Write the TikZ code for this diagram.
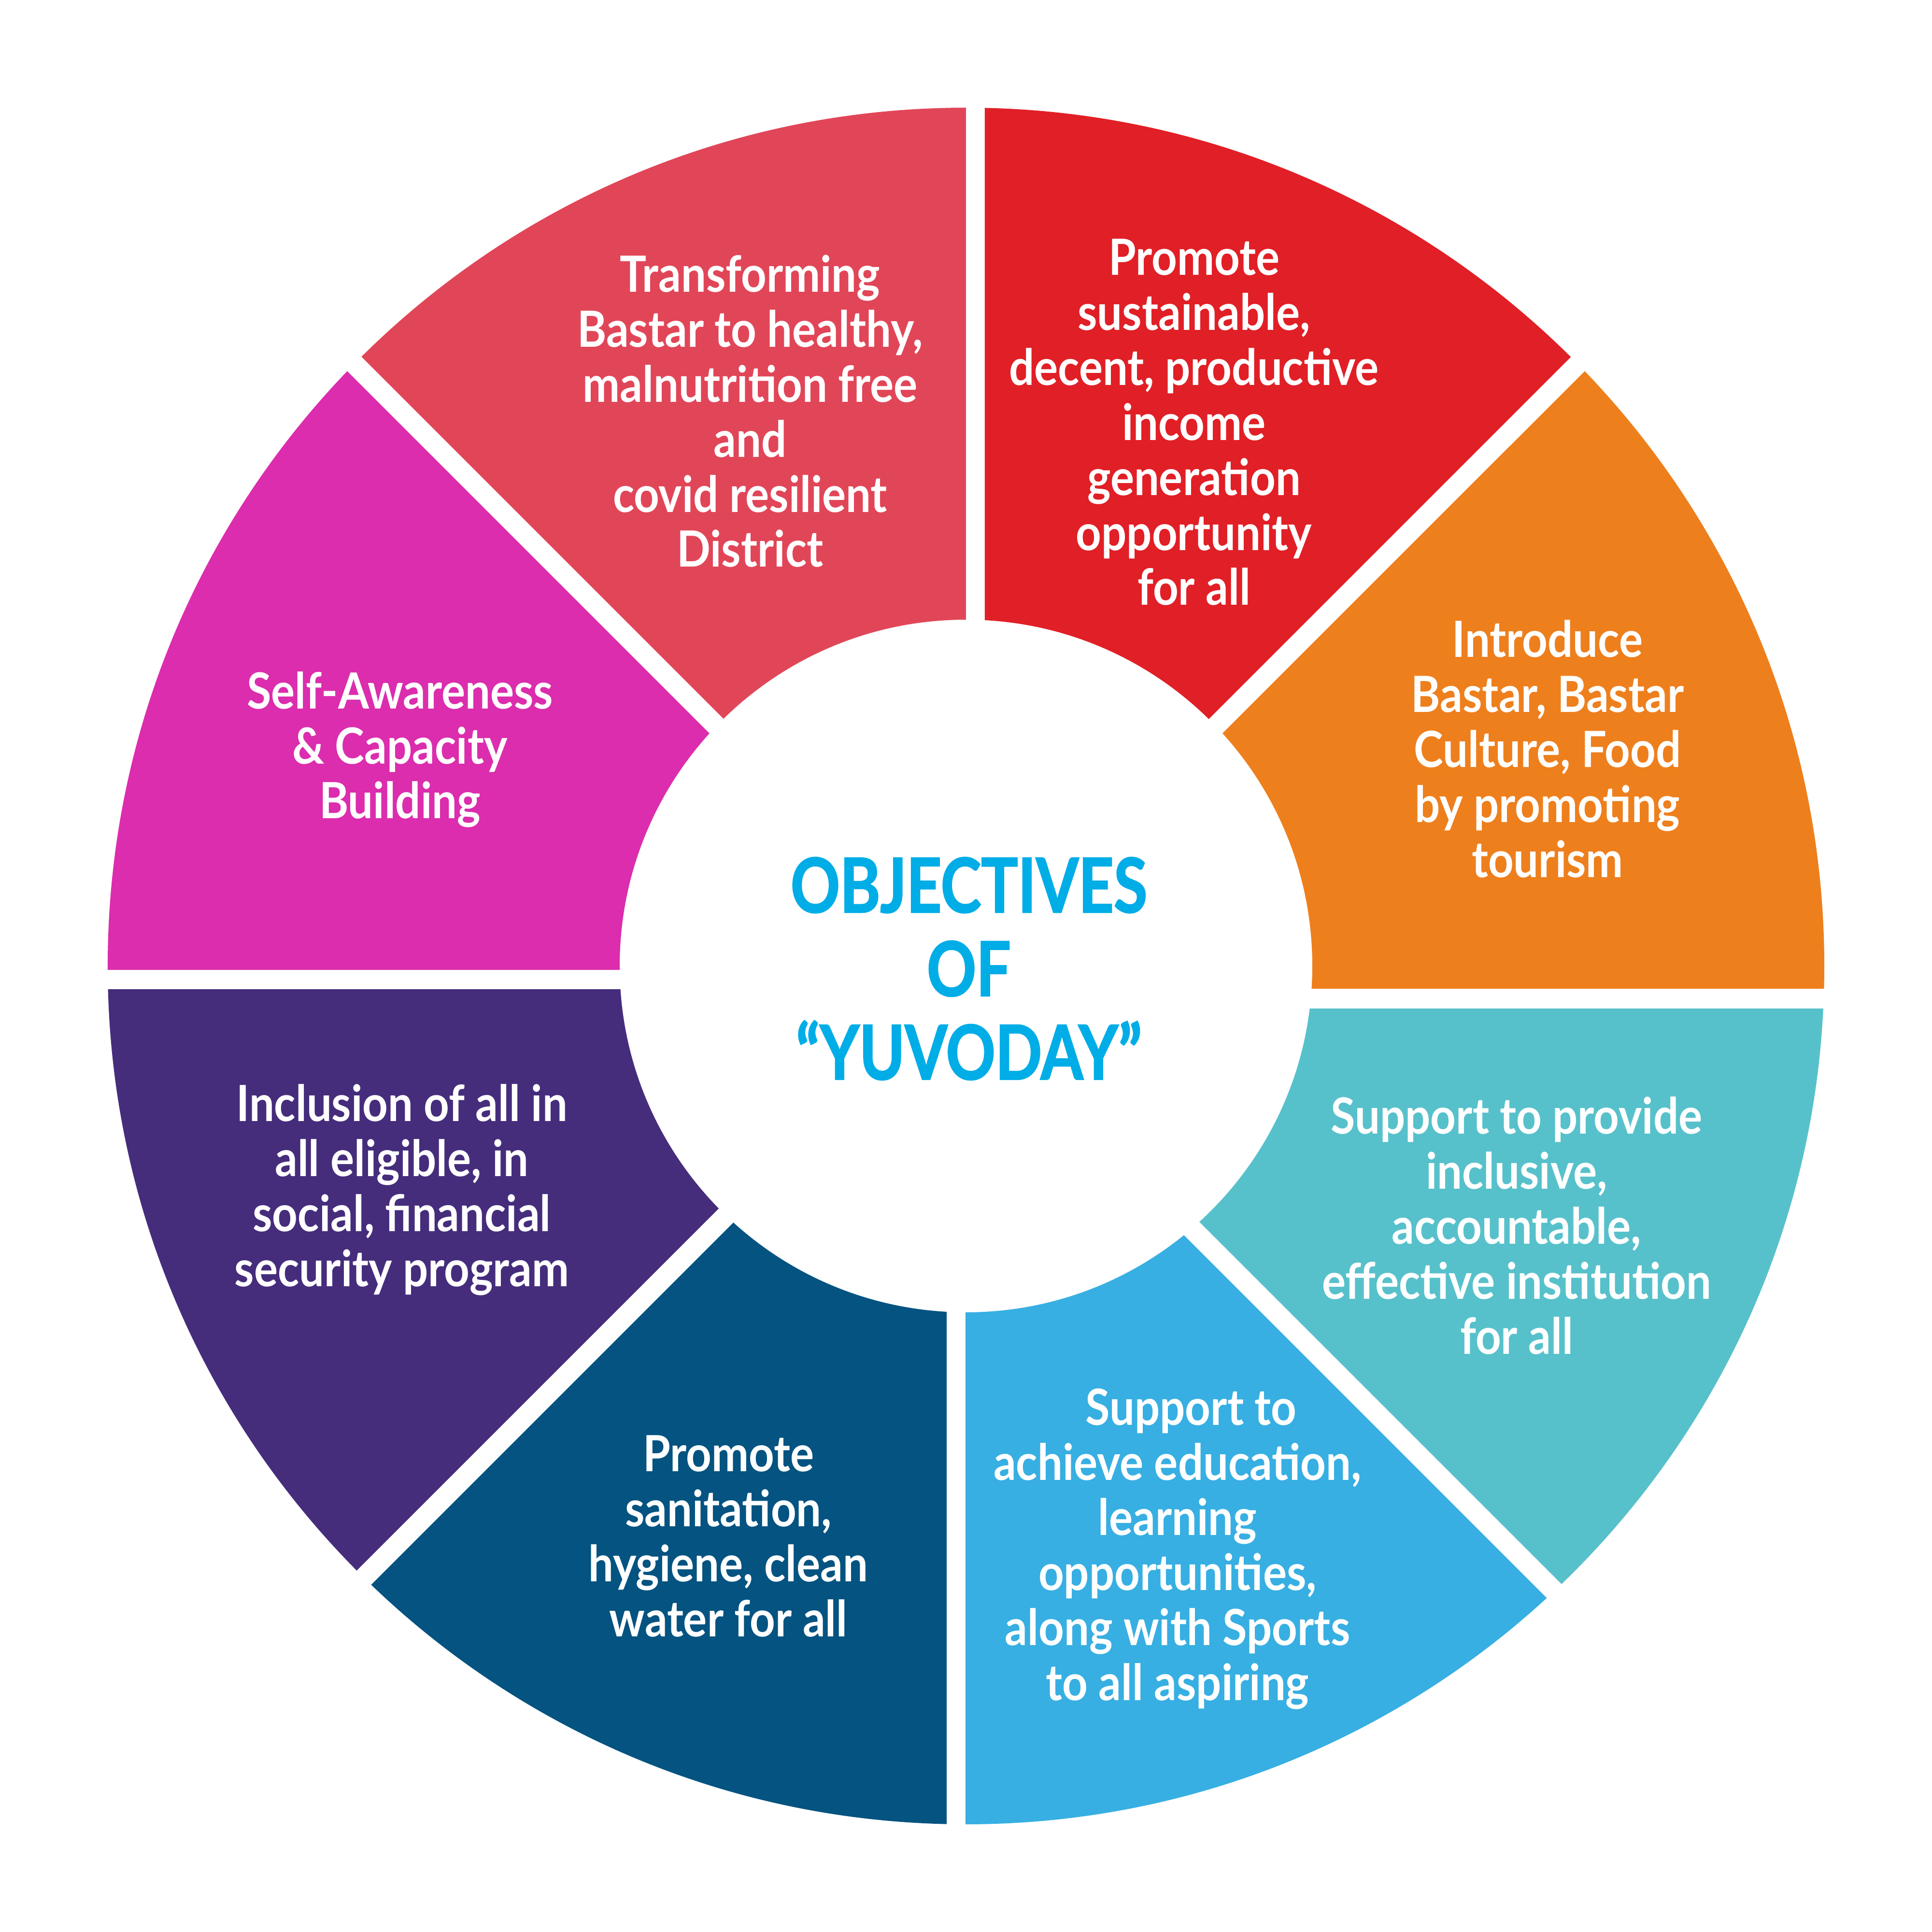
\documentclass[tikz,border=0pt]{standalone}
\usepackage{fontspec}
\setmainfont{Lato}[FakeStretch=0.89]
\newfontfamily\titlefont{Lato}[FakeStretch=0.81,FakeBold=1.5]
\definecolor{cpink}{HTML}{E14658}
\definecolor{cred}{HTML}{E11F26}
\definecolor{corange}{HTML}{EE7F1D}
\definecolor{cteal}{HTML}{57C1CB}
\definecolor{cblue}{HTML}{37AFE2}
\definecolor{cnavy}{HTML}{045381}
\definecolor{cpurple}{HTML}{452D7C}
\definecolor{cmagenta}{HTML}{DB2DAD}
\definecolor{ctitle}{HTML}{00ADE6}
\newcommand\drawwedge[2]{\begin{scope}\clip #2; \fill[#1, even odd rule] (0,0) circle (17.77) (0,0) circle (7.17);\end{scope}}
\begin{document}
\begin{tikzpicture}
\useasboundingbox (-20,-20) rectangle (20,20);
\fill[white] (-20,-20) rectangle (20,20);
\tikzset{
  wedgetext/.style={text=white, font=\fontsize{29.4}{32.4}\selectfont\bfseries, align=center, anchor=base, inner sep=0pt},
  titletext/.style={text=ctitle, font=\titlefont\fontsize{44.5}{49.2}\selectfont\bfseries, align=center, anchor=base, inner sep=0pt}
}
\drawwedge{cpink}{(0,0.099) -- ++(0,30) -- ++(-30,0) -- cycle}
\drawwedge{cred}{(0.39,0.475) -- ++(0,30) -- ++(30,0) -- cycle}
\drawwedge{corange}{(0.025,-0.47) -- ++(30,30) -- ++(0,-30) -- cycle}
\drawwedge{cteal}{(0.413,-0.88) -- ++(30,0) -- ++(0,-30) -- cycle}
\drawwedge{cblue}{(-0.01,-1.051) -- ++(30,-30) -- ++(-30,0) -- cycle}
\drawwedge{cnavy}{(-0.40,-0.895) -- ++(0,-30) -- ++(-30,0) -- cycle}
\drawwedge{cpurple}{(-0.579,-0.48) -- ++(-30,-30) -- ++(0,30) -- cycle}
\drawwedge{cmagenta}{(-0.415,-0.08) -- ++(-30,0) -- ++(0,30) -- cycle}

% anchor=base is the baseline of the last line
\node[wedgetext] (t1) at (-4.47,8.26) {Transforming\\Bastar to healthy,\\malnutrition free\\and\\covid resilient\\District};
\node[wedgetext] (t2) at (4.72,7.47) {Promote\\sustainable,\\decent, productive\\income\\generation\\opportunity\\for all};
\node[wedgetext] (t3) at (12.04,1.84) {Introduce\\Bastar, Bastar\\Culture, Food\\by promoting\\tourism};
\node[wedgetext] (t4) at (11.40,-8.03) {Support to provide\\inclusive,\\accountable,\\effective institution\\for all};
\node[wedgetext] (t5) at (4.38,-15.20) {\hspace*{0.56cm}Support to\\achieve education,\\learning\\opportunities,\\along with Sports\\to all aspiring};
\node[wedgetext] (t6) at (-4.92,-13.88) {Promote\\sanitation,\\hygiene, clean\\water for all};
\node[wedgetext] (t7) at (-11.68,-6.63) {Inclusion of all in\\all eligible, in\\social, financial\\security program};
\node[wedgetext] (t8) at (-11.72,3.05) {Self-Awareness\\\& Capacity\\Building};

\node[titletext] (title) at (0.06,-2.35) {OBJECTIVES\\OF\\“YUVODAY”};
\end{tikzpicture}
\end{document}
